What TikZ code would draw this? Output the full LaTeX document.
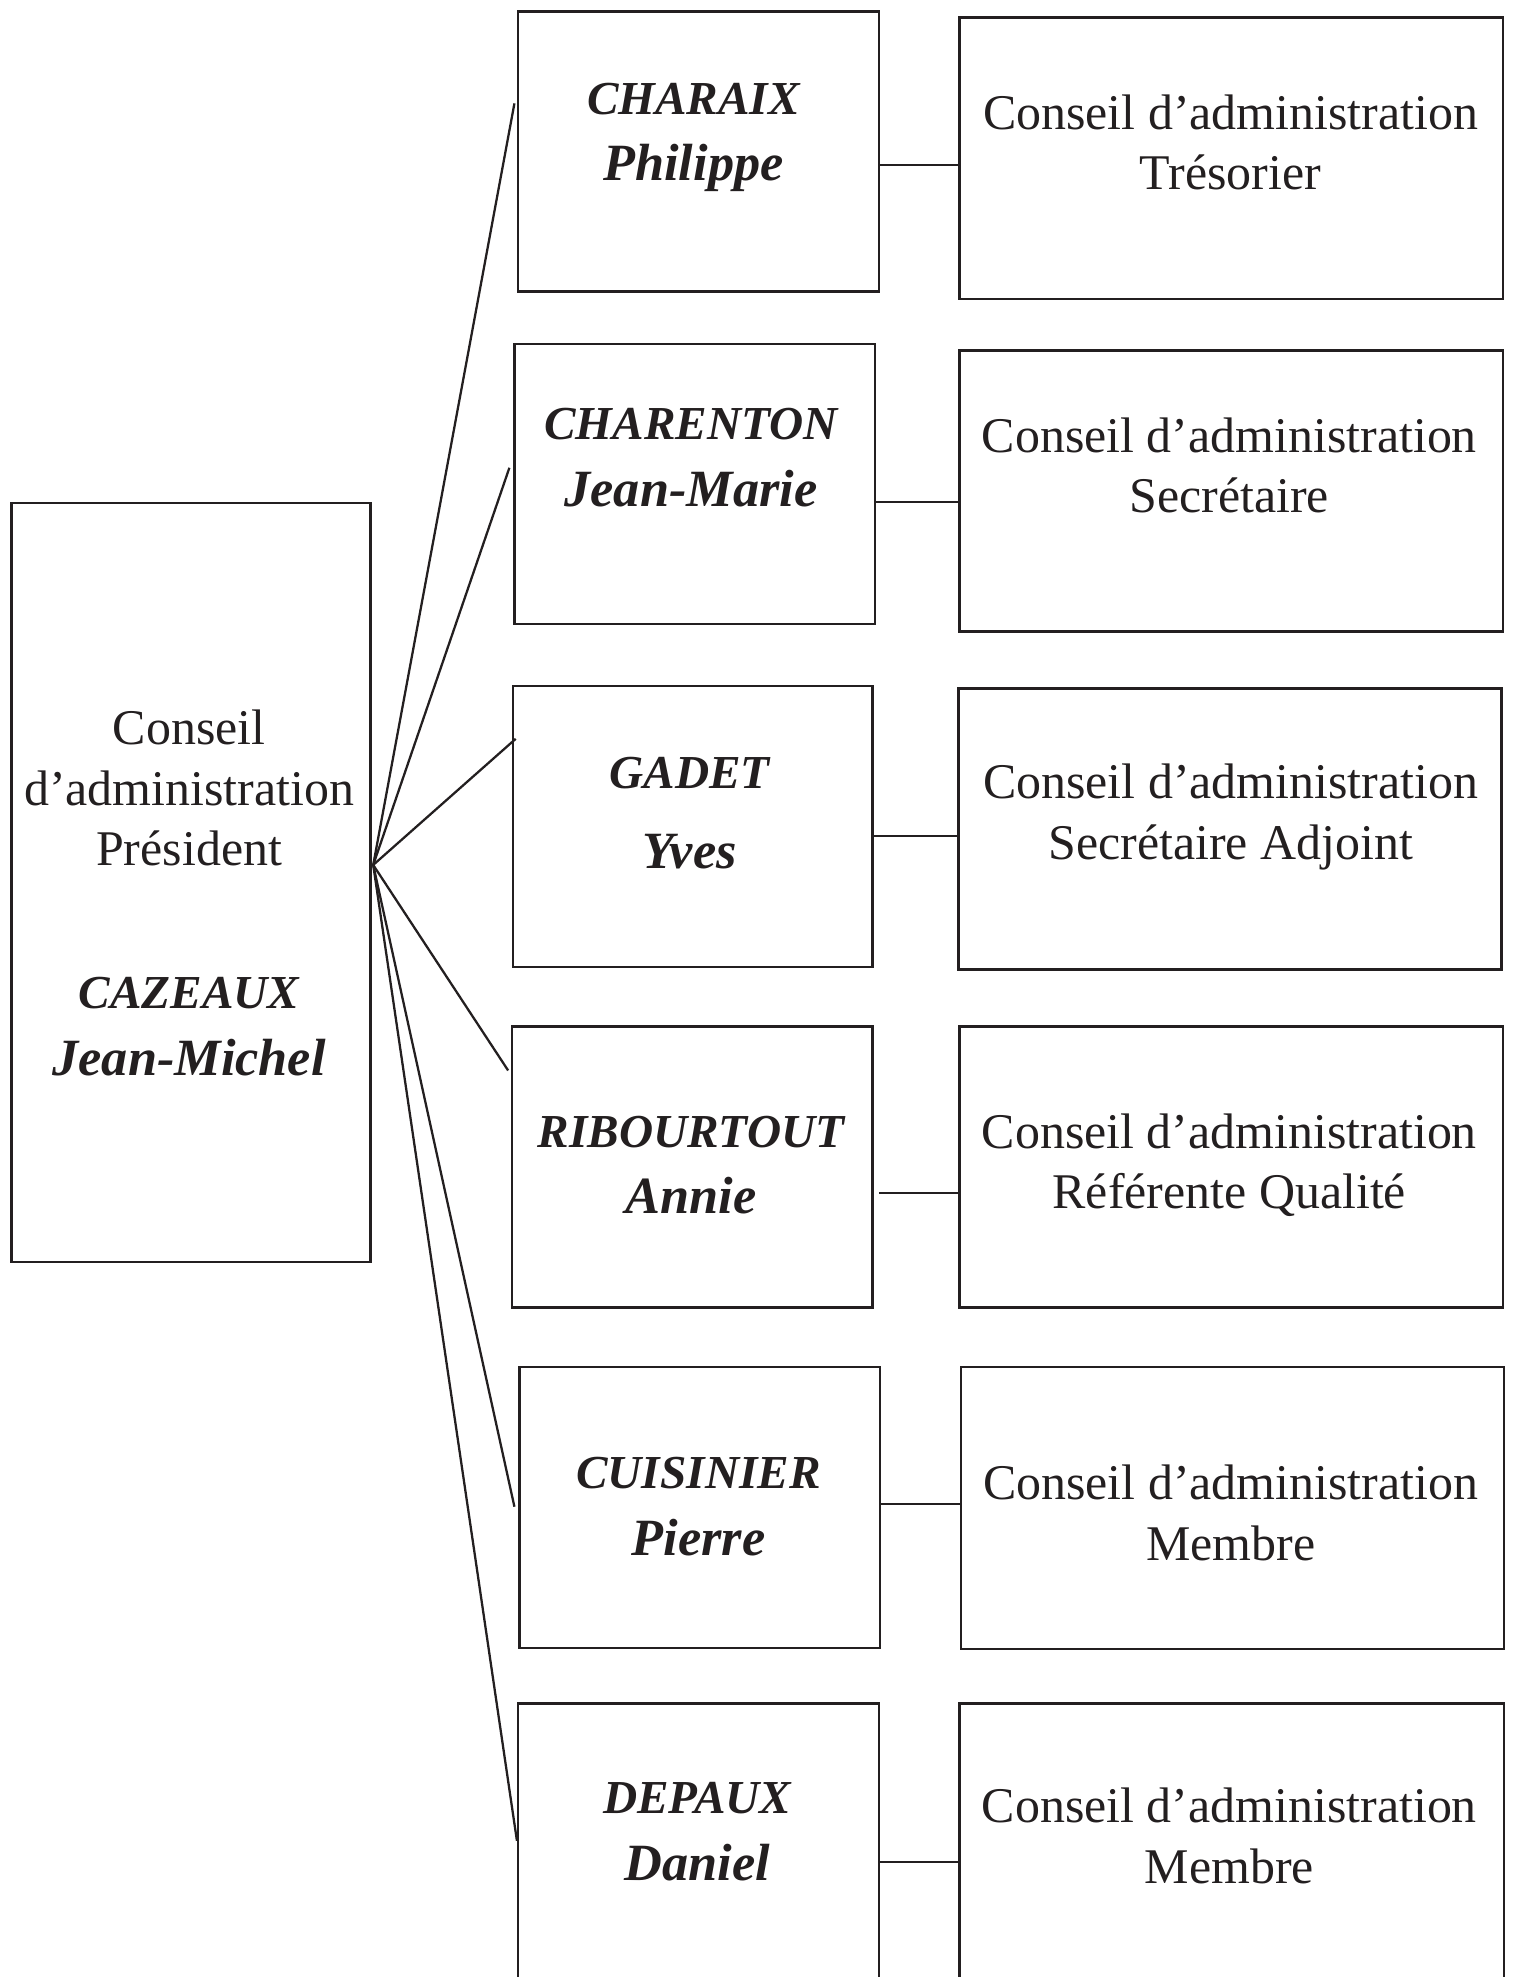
\documentclass[tikz,border=0pt]{standalone}
\usepackage{fontspec}
\setmainfont{Liberation Serif}
\definecolor{ink}{RGB}{35,31,32}
\tikzset{
  box/.style={draw=ink, line width=2pt, rectangle, inner sep=0pt, anchor=north west},
  role/.style={align=center, text=ink, inner sep=0pt, font=\fontsize{39.6}{48}\selectfont},
  who/.style={align=center, text=ink, inner sep=0pt, font=\fontsize{41.5}{53}\selectfont\bfseries\itshape},
  link/.style={draw=ink, line width=1.8pt},
}
\newcommand{\capline}[1]{{\fontsize{37.5}{53}\selectfont #1}}
\begin{document}
\begin{tikzpicture}[x=1pt,y=-1pt]
\useasboundingbox (0,0) rectangle (1200,1568);
% left box
\node[box, minimum width=285pt, minimum height=602pt] (L) at (8,398) {};
\node[role] (Lt) at (150,625) {Conseil\\d’administration\\Président};
\node[who] (Ln) at (150,814) {\capline{CAZEAUX}\\Jean-Michel};
% middle boxes
\node[box, minimum width=286pt, minimum height=222pt] (m1) at (410,8) {};
\node[box, minimum width=286pt, minimum height=222pt] (m2) at (407,272) {};
\node[box, minimum width=285pt, minimum height=223pt] (m3) at (406,543) {};
\node[box, minimum width=286pt, minimum height=223pt] (m4) at (405,813) {};
\node[box, minimum width=286pt, minimum height=223pt] (m5) at (411,1083) {};
\node[box, minimum width=286pt, minimum height=223pt] (m6) at (410,1350) {};
\node[who] (n1) at (550,109) {\capline{CHARAIX}\\Philippe};
\node[who] (n2) at (548,363) {\capline{CHARENTON}\\Jean-Marie};
\node[who] (n3) at (547,645) {\capline{GADET}\\[11pt]Yves};
\node[who] (n4) at (548,924) {\capline{RIBOURTOUT}\\Annie};
\node[who] (n5) at (554,1195) {\capline{CUISINIER}\\Pierre};
\node[who] (n6) at (553,1453) {\capline{DEPAUX}\\Daniel};
% right boxes
\node[box, minimum width=431pt, minimum height=223pt] (r1) at (760,13) {};
\node[box, minimum width=431pt, minimum height=223pt] (r2) at (760,277) {};
\node[box, minimum width=431pt, minimum height=223pt] (r3) at (759,545) {};
\node[box, minimum width=431pt, minimum height=223pt] (r4) at (760,813) {};
\node[box, minimum width=431pt, minimum height=224pt] (r5) at (761,1083) {};
\node[box, minimum width=432pt, minimum height=224pt] (r6) at (760,1350) {};
\node[role] (t1) at (976,113) {Conseil d’administration\\Trésorier};
\node[role] (t2) at (975,369) {Conseil d’administration\\Secrétaire};
\node[role] (t3) at (976,648) {Conseil d’administration\\Secrétaire Adjoint};
\node[role] (t4) at (975,924) {Conseil d’administration\\Référente Qualité};
\node[role] (t5) at (976,1200) {Conseil d’administration\\Membre};
\node[role] (t6) at (975,1456) {Conseil d’administration\\Membre};
% fan
\coordinate (hub) at (296,686);
\coordinate (e1) at (408,82);
\coordinate (e2) at (404,371);
\coordinate (e3) at (409,586);
\coordinate (e4) at (403,849);
\coordinate (e5) at (408,1195);
\coordinate (e6) at (410,1460);
\foreach \i in {1,...,6} {\draw[link] (hub) -- (e\i);}
% horizontal links
\coordinate (k1) at (0,131);
\coordinate (k2) at (0,398);
\coordinate (k3) at (0,663);
\coordinate (k4) at (697,946);
\coordinate (k5) at (0,1193);
\coordinate (k6) at (0,1477);
\draw[link] (m1.east |- k1) -- (r1.west |- k1);
\draw[link] (m2.east |- k2) -- (r2.west |- k2);
\draw[link] (m3.east |- k3) -- (r3.west |- k3);
\draw[link] (k4) -- (r4.west |- k4);
\draw[link] (m5.east |- k5) -- (r5.west |- k5);
\draw[link] (m6.east |- k6) -- (r6.west |- k6);
\end{tikzpicture}
\end{document}
